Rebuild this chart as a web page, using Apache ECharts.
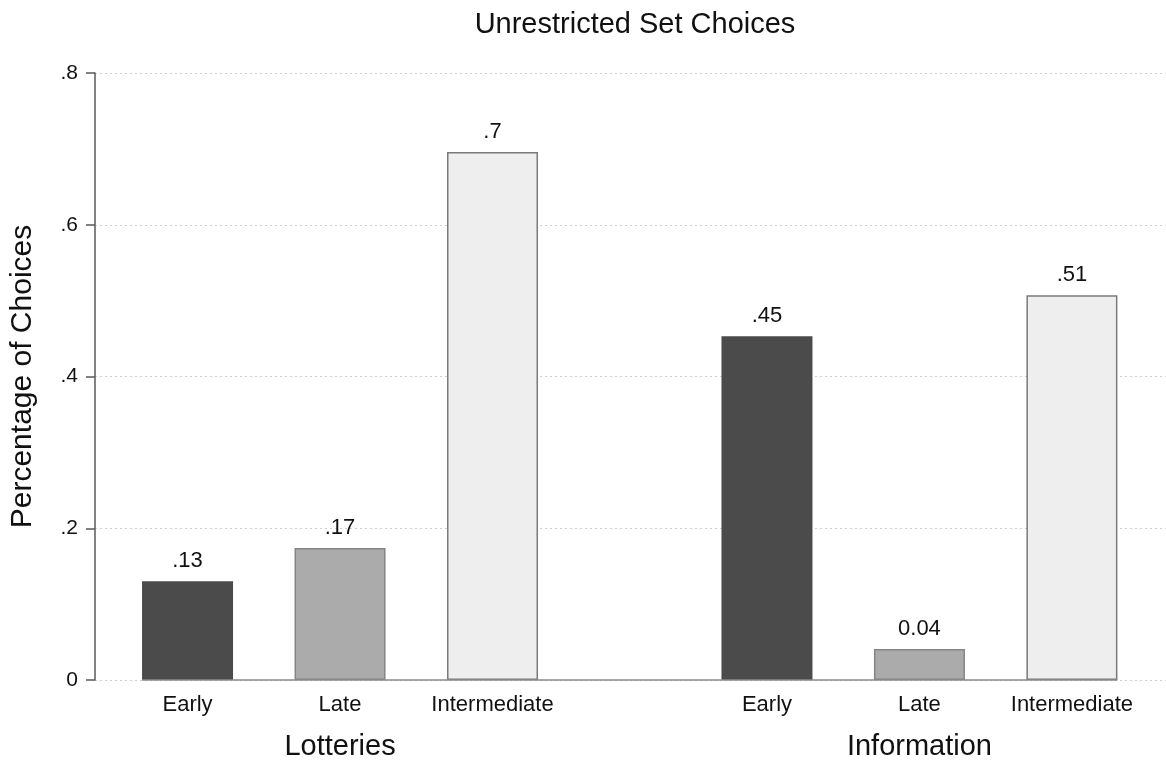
<!DOCTYPE html>
<html>
<head>
<meta charset="utf-8">
<script src="https://cdn.jsdelivr.net/npm/echarts@6/dist/echarts.min.js"></script>
<style>
html,body{margin:0;padding:0;background:#fff;}
#chart{width:1166px;height:761px;}
</style>
</head>
<body>
<div id="chart"></div>
<script>
const titleText = 'Unrestricted Set Choices';
const yTitle = 'Percentage of Choices';
const categories = ['Early', 'Late', 'Intermediate'];
const groups = ['Lotteries', 'Information'];
const lotteries = [0.130, 0.174, 0.696];
const information = [0.453, 0.041, 0.507];
const lotteryLabels = ['.13', '.17', '.7'];
const informationLabels = ['.45', '0.04', '.51'];
const yTicks = [0, 0.2, 0.4, 0.6, 0.8];
const yTickLabels = ['0', '.2', '.4', '.6', '.8'];

// layout (not data)
const GROUP_STEP = 3.8;
const FONT = '"Liberation Sans", Arial, sans-serif';
const fills = ['#4b4b4b', '#ababab', '#eeeeee'];
const borders = ['#4b4b4b', '#858585', '#7a7a7a'];

const groupValues = [lotteries, information];
const groupLabels = [lotteryLabels, informationLabels];

const barData = [];
const labelPos = [];
const labelText = {};
const groupPos = [];
const groupText = {};
groupValues.forEach((vals, g) => {
  vals.forEach((v, c) => {
    const x = g * GROUP_STEP + c;
    barData.push({
      value: [x, v],
      itemStyle: { color: fills[c], borderColor: borders[c], borderWidth: 1.5 },
      label: { formatter: groupLabels[g][c] }
    });
    labelPos.push(x);
    labelText[x.toFixed(2)] = categories[c];
  });
  const gx = g * GROUP_STEP + 1;
  groupPos.push(gx);
  groupText[gx.toFixed(2)] = groups[g];
});

const firstX = labelPos[0];
const lastX = labelPos[labelPos.length - 1];
const halfBar = 0.2984;

const chart = echarts.init(document.getElementById('chart'), null, { renderer: 'canvas' });
chart.setOption({
  backgroundColor: '#fff',
  animation: false,
  textStyle: { fontFamily: FONT },
  title: {
    text: titleText,
    left: 630,
    textAlign: 'center',
    top: 5,
    textStyle: { fontFamily: FONT, fontSize: 29, fontWeight: 'normal', color: '#111' }
  },
  grid: { left: 95, right: 0, top: 73, bottom: 80, containLabel: false },
  xAxis: [{
    type: 'value',
    min: -0.607,
    max: 6.417,
    axisLine: { show: false },
    axisTick: { show: false },
    splitLine: { show: false },
    axisLabel: {
      customValues: labelPos,
      margin: 14,
      fontFamily: FONT,
      fontSize: 22,
      color: '#111',
      formatter: v => labelText[Number(v).toFixed(2)] || ''
    }
  }, {
    type: 'value',
    min: -0.607,
    max: 6.417,
    position: 'bottom',
    axisLine: { show: false },
    axisTick: { show: false },
    splitLine: { show: false },
    axisLabel: {
      customValues: groupPos,
      margin: 52,
      fontFamily: FONT,
      fontSize: 29,
      color: '#111',
      formatter: v => groupText[Number(v).toFixed(2)] || ''
    }
  }],
  yAxis: {
    type: 'value',
    min: 0,
    max: 0.8,
    interval: 0.2,
    name: yTitle,
    nameLocation: 'middle',
    nameGap: 57,
    nameTextStyle: { fontFamily: FONT, fontSize: 30, color: '#111' },
    axisLine: { show: true, onZero: false, lineStyle: { color: '#5a5a5a', width: 1.5 } },
    axisTick: { show: true, length: 9, lineStyle: { color: '#5a5a5a', width: 1.5 } },
    axisLabel: {
      margin: 17,
      fontFamily: FONT,
      fontSize: 21,
      color: '#111',
      formatter: v => {
        const i = yTicks.findIndex(t => Math.abs(t - v) < 1e-9);
        return i >= 0 ? yTickLabels[i] : '';
      }
    },
    splitLine: { show: true, lineStyle: { color: '#cfcfcf', type: [2, 3], width: 1.2 } }
  },
  series: [{
    type: 'bar',
    xAxisIndex: 0,
    barWidth: 91,
    data: barData,
    label: {
      show: true,
      position: 'top',
      distance: 9,
      fontFamily: FONT,
      fontSize: 22,
      color: '#111'
    },
    markLine: {
      silent: true,
      symbol: 'none',
      label: { show: false },
      lineStyle: { color: '#8a8a8a', type: 'solid', width: 1.5 },
      data: [[{ coord: [firstX - halfBar, 0] }, { coord: [lastX + halfBar, 0] }]]
    },
    z: 3
  }]
});
</script>
</body>
</html>
